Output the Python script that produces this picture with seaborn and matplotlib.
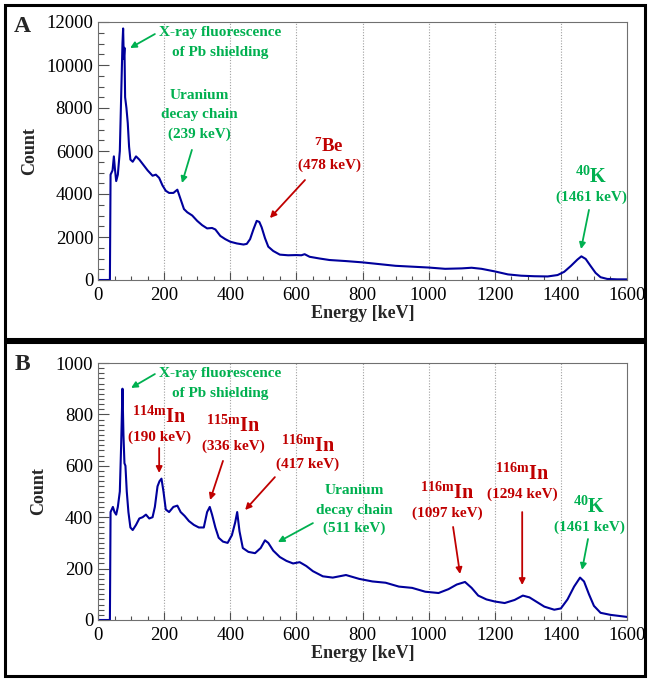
import numpy as np
import matplotlib
matplotlib.use("Agg")
import matplotlib.pyplot as plt
import seaborn as sns
from matplotlib.patches import Rectangle
from matplotlib.ticker import MultipleLocator

sns.set_style("ticks")
plt.rcParams["font.family"] = ["Liberation Serif", "DejaVu Serif"]
plt.rcParams["mathtext.fontset"] = "custom"
plt.rcParams["mathtext.rm"] = "Liberation Serif:bold"
plt.rcParams["mathtext.bf"] = "Liberation Serif:bold"
plt.rcParams["mathtext.it"] = "Liberation Serif:bold"

# Spektrum A (gelesen aus dem Bild)
energy_a = [0, 36, 38, 44, 48, 51, 55, 60, 66, 70, 74, 76, 78, 80, 82, 86, 90, 94, 98,
            105, 115, 125, 135, 150, 165, 175, 185, 195, 205, 215, 228, 240, 250, 260,
            270, 285, 300, 315, 330, 345, 355, 370, 385, 400, 420, 440, 450, 460, 470,
            480, 488, 495, 505, 515, 530, 550, 575, 600, 615, 625, 640, 670, 700, 750,
            800, 850, 900, 950, 1000, 1050, 1100, 1130, 1160, 1200, 1240, 1280, 1320,
            1360, 1390, 1410, 1430, 1450, 1462, 1475, 1490, 1505, 1520, 1540, 1570, 1600]
counts_a = [0, 0, 4900, 5100, 5750, 5200, 4600, 4900, 6000, 8500, 11000, 11700, 10300,
            10800, 8500, 8000, 7300, 6200, 5600, 5500, 5750, 5600, 5400, 5100, 4850, 4900,
            4750, 4400, 4150, 4050, 4050, 4200, 3750, 3300, 3150, 3000, 2750, 2550, 2400,
            2420, 2350, 2050, 1900, 1780, 1700, 1650, 1680, 1900, 2350, 2750, 2700, 2450,
            1950, 1550, 1350, 1180, 1150, 1160, 1150, 1200, 1080, 1000, 930, 880, 820, 740,
            660, 620, 580, 520, 540, 570, 520, 400, 260, 200, 175, 165, 230, 380, 650, 950,
            1100, 980, 650, 330, 130, 50, 30, 30]

# Spektrum B
energy_b = [0, 36, 38, 45, 50, 55, 60, 66, 70, 74, 77, 80, 83, 87, 92, 98, 105, 115, 125,
            135, 145, 155, 165, 172, 180, 186, 192, 198, 205, 215, 228, 240, 250, 262, 275,
            290, 305, 320, 330, 338, 345, 355, 365, 378, 392, 405, 415, 421, 428, 438, 455,
            475, 492, 505, 515, 530, 550, 570, 590, 610, 630, 650, 680, 710, 750, 790, 830,
            870, 910, 950, 990, 1030, 1060, 1085, 1110, 1130, 1150, 1175, 1200, 1230, 1260,
            1285, 1305, 1325, 1350, 1380, 1400, 1420, 1440, 1458, 1470, 1485, 1500, 1520,
            1550, 1600]
counts_b = [0, 0, 420, 440, 420, 410, 440, 500, 680, 900, 720, 610, 600, 500, 420, 360,
            350, 370, 395, 400, 410, 395, 400, 440, 520, 540, 550, 500, 430, 420, 440, 445,
            420, 405, 385, 370, 360, 360, 420, 440, 410, 360, 320, 305, 300, 330, 380, 420,
            345, 280, 265, 260, 280, 310, 300, 270, 245, 230, 220, 225, 210, 190, 170, 165,
            175, 160, 150, 145, 130, 125, 110, 105, 120, 138, 148, 125, 95, 80, 72, 66, 78,
            95, 88, 72, 52, 40, 45, 80, 130, 165, 150, 100, 55, 28, 20, 12]

GREEN = "#00b050"
RED = "#c00000"
LINE = "#00009c"

fig = plt.figure(figsize=(6.49, 6.79), dpi=100)

# Rahmen der beiden Teilbilder
for y0, h in [(340 / 679, 334 / 679), (3 / 679, 334 / 679)]:
    fig.patches.append(Rectangle((5 / 649, y0), 640 / 649, h, transform=fig.transFigure,
                                 fill=False, edgecolor="black", lw=2.2))

ax_a = fig.add_axes([98 / 649, 1 - 280 / 679, 529 / 649, 258 / 679])
ax_b = fig.add_axes([98 / 649, 1 - 620 / 679, 529 / 649, 257 / 679])


def style(ax, ymax, ymajor, yminor):
    ax.set_xlim(0, 1600)
    ax.set_ylim(0, ymax)
    ax.xaxis.set_major_locator(MultipleLocator(200))
    ax.xaxis.set_minor_locator(MultipleLocator(50))
    ax.yaxis.set_major_locator(MultipleLocator(ymajor))
    ax.yaxis.set_minor_locator(MultipleLocator(yminor))
    for sp in ax.spines.values():
        sp.set_color("#707070")
        sp.set_linewidth(0.8)
    ax.tick_params(which="both", direction="in", colors="#505050", labelcolor="black",
                   labelsize=13.5, width=0.8)
    ax.tick_params(axis="x", which="major", length=6, pad=5)
    ax.tick_params(axis="x", which="minor", length=3)
    ax.tick_params(axis="y", which="major", length=8)
    ax.tick_params(axis="y", which="minor", length=4)
    for e in range(200, 1600, 200):
        ax.axvline(e, color="#a0a0a0", lw=0.8, ls=(0, (1, 1.5)), zorder=0)
    ax.set_xlabel("Energy [keV]", fontsize=13, fontweight="bold", labelpad=1)
    ax.set_ylabel("Count", fontsize=13, fontweight="bold", labelpad=6)


sns.lineplot(x=energy_a, y=counts_a, ax=ax_a, color=LINE, lw=1.5, estimator=None)
sns.lineplot(x=energy_b, y=counts_b, ax=ax_b, color=LINE, lw=1.5, estimator=None)
style(ax_a, 12000, 2000, 500)
style(ax_b, 1000, 200, 20)

fig.text(22 / 649, 1 - 26 / 679, "A", fontsize=17, fontweight="bold", ha="center", va="center")
fig.text(22 / 649, 1 - 364 / 679, "B", fontsize=17, fontweight="bold", ha="center", va="center")


def label(ax, x, ys, lines, sizes, color):
    for y, t, s in zip(ys, lines, sizes):
        ax.text(x, y, t, fontsize=s, fontweight="bold", color=color, ha="center", va="center")


def arrow(ax, tail, tip, color):
    ax.annotate("", xy=tip, xytext=tail,
                arrowprops=dict(arrowstyle="-|>", color=color, lw=1.3, mutation_scale=9,
                                shrinkA=0, shrinkB=0))


# Beschriftungen A
label(ax_a, 369, [11490, 10560], ["X-ray fluorescence", "of Pb shielding"], [11, 11], GREEN)
arrow(ax_a, (172, 11440), (97, 10790), GREEN)
label(ax_a, 306, [8560, 7720, 6790], ["Uranium", "decay chain", "(239 keV)"], [11, 11, 11], GREEN)
arrow(ax_a, (284, 6050), (254, 4510), GREEN)
label(ax_a, 699, [6230, 5350], [r"$^{7}$Be", "(478 keV)"], [13.5, 11], RED)
arrow(ax_a, (626, 4650), (520, 2880), RED)
label(ax_a, 1491, [4790, 3860], [r"$^{40}$K", "(1461 keV)"], [14.5, 11], GREEN)
arrow(ax_a, (1485, 3260), (1461, 1440), GREEN)

# Beschriftungen B
label(ax_b, 369, [961, 883], ["X-ray fluorescence", "of Pb shielding"], [11, 11], GREEN)
arrow(ax_b, (172, 957), (100, 903), GREEN)
label(ax_b, 185, [790, 712], [r"$^{114\mathrm{m}}$In", "(190 keV)"], [14.5, 11], RED)
arrow(ax_b, (185, 669), (185, 572), RED)
label(ax_b, 408, [755, 677], [r"$^{115\mathrm{m}}$In", "(336 keV)"], [14.5, 11], RED)
arrow(ax_b, (378, 619), (339, 467), RED)
label(ax_b, 635, [677, 607], [r"$^{116\mathrm{m}}$In", "(417 keV)"], [14.5, 11], RED)
arrow(ax_b, (535, 556), (445, 428), RED)
label(ax_b, 774, [502, 428, 358], ["Uranium", "decay chain", "(511 keV)"], [11, 11, 11], GREEN)
arrow(ax_b, (650, 377), (544, 303), GREEN)
label(ax_b, 1056, [494, 416], [r"$^{116\mathrm{m}}$In", "(1097 keV)"], [14.5, 11], RED)
arrow(ax_b, (1074, 362), (1095, 179), RED)
label(ax_b, 1283, [568, 490], [r"$^{116\mathrm{m}}$In", "(1294 keV)"], [14.5, 11], RED)
arrow(ax_b, (1283, 420), (1283, 136), RED)
label(ax_b, 1485, [440, 362], [r"$^{40}$K", "(1461 keV)"], [14.5, 11], GREEN)
arrow(ax_b, (1482, 315), (1464, 195), GREEN)

fig.savefig("out.png", dpi=100)
